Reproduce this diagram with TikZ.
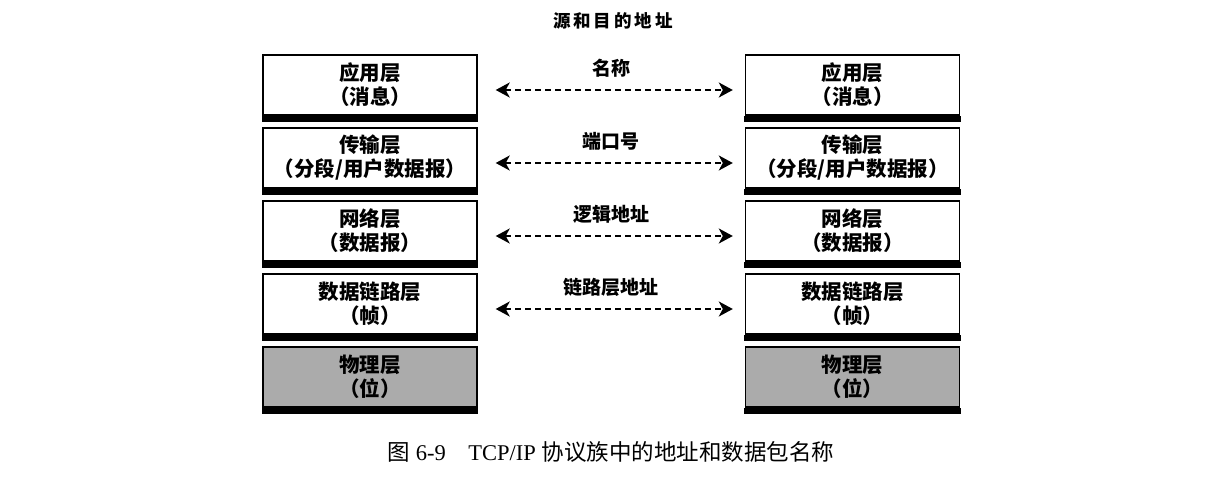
\documentclass[tikz,border=0pt]{standalone}
\usepackage{fontspec}
\setmainfont{Liberation Serif}
\newfontfamily\cjk{Noto Sans CJK SC}
\usetikzlibrary{arrows.meta,calc}
\newcommand{\tk}{\kern3pt}
\begin{document}
\begin{tikzpicture}[x=1pt,y=-1pt,
  layerbox/.style={draw, line width=1.4pt, minimum width=214pt, minimum height=60pt,
    inner sep=0pt, align=center, fill=white,
    font=\cjk\bfseries\fontsize{20.5}{24}\selectfont},
  physbox/.style={layerbox, fill=black!33},
  peerarrow/.style={line width=2pt, dash pattern=on 6pt off 4pt,
    {Stealth[length=14pt,width=15pt,inset=4pt]}-{Stealth[length=14pt,width=15pt,inset=4pt]}},
  peerlabel/.style={font=\cjk\bfseries\fontsize{19}{20}\selectfont},
  heading/.style={font=\cjk\bfseries\fontsize{17.5}{20}\selectfont},
  caption/.style={font=\fontsize{22.5}{26}\selectfont}]

\useasboundingbox (0,0) rectangle (1210,478);

\node[heading] (title) at (613,21) {源\tk 和\tk 目\tk 的\tk 地\tk 址};

% protocol stacks on both hosts
\foreach \side/\x in {L/370, R/852.5} {
  \node[layerbox] (\side1) at (\x,85)  {应用层\\（消息）};
  \node[layerbox] (\side2) at (\x,158) {传输层\\（分段/用户数据报）};
  \node[layerbox] (\side3) at (\x,231) {网络层\\（数据报）};
  \node[layerbox] (\side4) at (\x,304) {数据链路层\\（帧）};
  \node[physbox]  (\side5) at (\x,377) {物理层\\（位）};
}

% heavy bottom edge of each layer box
\foreach \n in {L1,L2,L3,L4,L5,R1,R2,R3,R4,R5} {
  \fill ([xshift=-0.7pt]\n.south west) rectangle ([xshift=0.7pt,yshift=-6pt]\n.south east);
}

% peer-to-peer addressing between matching layers
\foreach \i/\lbl in {1/名称, 2/端口号, 3/逻辑地址, 4/链路层地址} {
  \draw[peerarrow] ([xshift=18pt,yshift=-5pt]L\i.east) -- ([xshift=-12pt,yshift=-5pt]R\i.west);
  \node[peerlabel] (addr\i) at ($([yshift=17pt]L\i.east)!0.5!([yshift=17pt]R\i.west)$) {\lbl};
}

\node[caption] (cap) at (611,452) {{\cjk 图} 6-9\hspace{1em}TCP/IP {\cjk 协议族中的地址和数据包名称}};
\end{tikzpicture}
\end{document}
